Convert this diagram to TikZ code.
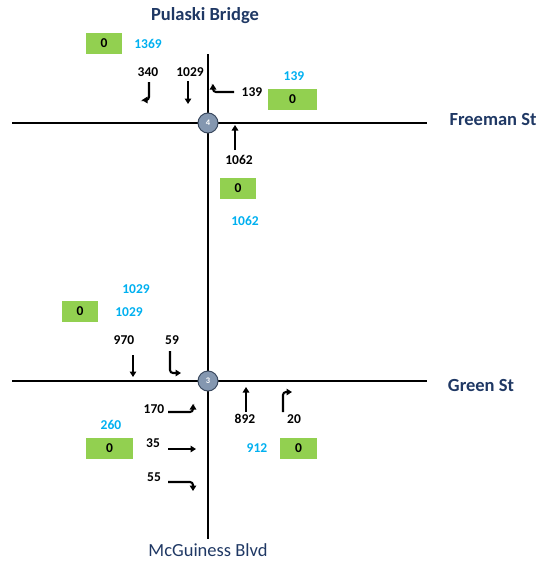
\documentclass[tikz,border=0pt]{standalone}
\usepackage{fontspec}
\setmainfont{Carlito}
\usetikzlibrary{arrows.meta}
\definecolor{titlec}{HTML}{1F3864}
\definecolor{cyanc}{HTML}{00B0F0}
\definecolor{greenc}{HTML}{92D050}
\definecolor{nodefill}{HTML}{8497B0}
\definecolor{nodeline}{HTML}{3B4A60}
\begin{document}
\begin{tikzpicture}[x=1pt,y=-1pt,
  road/.style={line width=2pt},
  mv/.style={line width=2.1pt,-{Triangle[length=5.5pt,width=6.5pt]},rounded corners=3pt},
  num/.style={font=\bfseries\fontsize{13.5}{13.5}\selectfont,inner sep=0pt},
  cnum/.style={num,text=cyanc},
  gbox/.style={fill=greenc,minimum height=21pt,inner sep=0pt,font=\bfseries\fontsize{13.5}{13.5}\selectfont},
  street/.style={font=\bfseries\fontsize{18.5}{18.5}\selectfont,text=titlec,inner sep=0pt},
  inter/.style={circle,fill=nodefill,draw=nodeline,line width=1pt,minimum size=20pt,inner sep=0pt,text=white,font=\bfseries\fontsize{8.5}{8.5}\selectfont}
]
\useasboundingbox (0,0) rectangle (542,562);
% roads
\coordinate (fw) at (12,123); \coordinate (fe) at (427,123);
\coordinate (gw) at (12,381); \coordinate (ge) at (427,381);
\coordinate (vn) at (208,54); \coordinate (vs) at (208,539);
\draw[road] (fw) -- (fe);
\draw[road] (gw) -- (ge);
\draw[road] (vn) -- (vs);
\node[inter] (n4) at (208,123) {4};
\node[inter] (n3) at (208,381) {3};
% street names
\node[street] (pul) at (205,16) {Pulaski Bridge};
\node[street] (fre) at (493,119) {Freeman St};
\node[street] (gre) at (481,385) {Green St};
\node[street,font=\fontsize{18.5}{18.5}\selectfont] (mcg) at (208,550) {McGuiness Blvd};
% green boxes
\node[gbox,minimum width=36pt] (b1) at (104,43.5) {0};
\node[gbox,minimum width=49pt] (b2) at (292.5,99) {0};
\node[gbox,minimum width=36pt] (b3) at (238,188.5) {0};
\node[gbox,minimum width=36pt] (b4) at (80,311.5) {0};
\node[gbox,minimum width=47pt] (b5) at (109.5,448) {0};
\node[gbox,minimum width=37pt] (b6) at (298.5,448) {0};
% numbers
\node[cnum] (c1369) at (148,44) {1369};
\node[num] (t340) at (148,72) {340};
\node[num] (t1029) at (190,72) {1029};
\node[num] (t139) at (252,92) {139};
\node[cnum] (c139) at (294,76) {139};
\node[num] (t1062) at (239,160) {1062};
\node[cnum] (c1062) at (245,221) {1062};
\node[cnum] (c1029a) at (136,289) {1029};
\node[cnum] (c1029b) at (129,312) {1029};
\node[num] (t970) at (124,340) {970};
\node[num] (t59) at (172,340) {59};
\node[num] (t170) at (154,409) {170};
\node[cnum] (c260) at (111,425) {260};
\node[num] (t35) at (153,443) {35};
\node[num] (t55) at (154,477) {55};
\node[num] (t892) at (245,419) {892};
\node[num] (t20) at (294,419) {20};
\node[cnum] (c912) at (257,448) {912};
% movement arrows
\coordinate (a340s) at (149,82); \coordinate (a340e) at (142,100);
\draw[mv] (a340s) |- (a340e);
\coordinate (a1029s) at (188,81); \coordinate (a1029e) at (188,104);
\draw[mv] (a1029s) -- (a1029e);
\coordinate (a139s) at (234,92); \coordinate (a139e) at (213,84);
\draw[mv] (a139s) -| (a139e);
\coordinate (a1062s) at (235,150); \coordinate (a1062e) at (235,125);
\draw[mv] (a1062s) -- (a1062e);
\coordinate (a970s) at (133,355); \coordinate (a970e) at (133,377);
\draw[mv] (a970s) -- (a970e);
\coordinate (a59s) at (170,351); \coordinate (a59e) at (181,373);
\draw[mv] (a59s) |- (a59e);
\coordinate (a170s) at (168,412); \coordinate (a170e) at (193,404);
\draw[mv] (a170s) -| (a170e);
\coordinate (a35s) at (168,449); \coordinate (a35e) at (196,449);
\draw[mv] (a35s) -- (a35e);
\coordinate (a55s) at (168,482); \coordinate (a55e) at (193,491);
\draw[mv] (a55s) -| (a55e);
\coordinate (a892s) at (246,412); \coordinate (a892e) at (246,387);
\draw[mv] (a892s) -- (a892e);
\coordinate (a20s) at (283,412); \coordinate (a20e) at (292,392);
\draw[mv] (a20s) |- (a20e);
\end{tikzpicture}
\end{document}
